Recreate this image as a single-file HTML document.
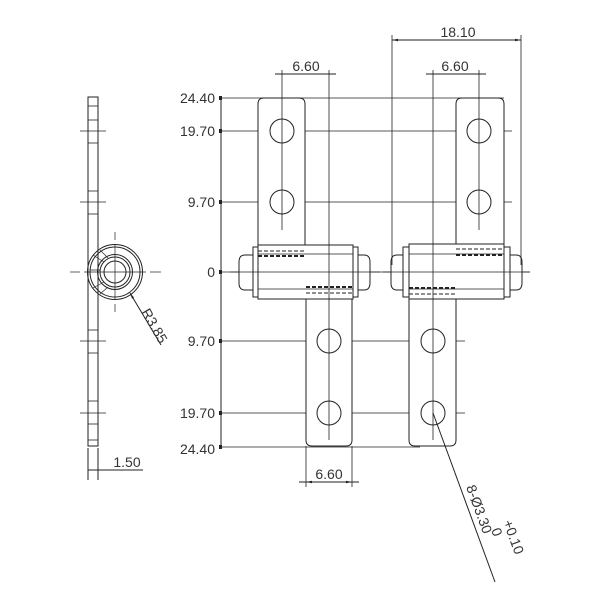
<!DOCTYPE html>
<html><head><meta charset="utf-8"><style>
html,body{margin:0;padding:0;background:#fff;}
svg{display:block;}
text{font-family:"Liberation Sans",sans-serif;font-size:14px;fill:#333;}
</style></head><body>
<svg width="600" height="600" viewBox="0 0 600 600" xmlns="http://www.w3.org/2000/svg">
<defs>
<marker id="a" viewBox="0 0 10 10" refX="10" refY="5" markerWidth="6" markerHeight="6" orient="auto-start-reverse"><path d="M0,3 L10,5 L0,7 z" fill="#222"/></marker>
</defs>
<g stroke="#222" stroke-width="1" fill="none">
<rect x="88" y="97" width="10" height="349"/>
<g stroke-width="0.8">
<line x1="88" y1="106" x2="98" y2="106"/><line x1="88" y1="440" x2="98" y2="440"/>
<line x1="88" y1="120" x2="98" y2="120"/><line x1="88" y1="143" x2="98" y2="143"/>
<line x1="88" y1="191" x2="98" y2="191"/><line x1="88" y1="214" x2="98" y2="214"/>
<line x1="88" y1="330" x2="98" y2="330"/><line x1="88" y1="353" x2="98" y2="353"/>
<line x1="88" y1="401" x2="98" y2="401"/><line x1="88" y1="424" x2="98" y2="424"/>
<line x1="80" y1="131" x2="106" y2="131"/><line x1="80" y1="202" x2="106" y2="202"/>
<line x1="80" y1="341" x2="106" y2="341"/><line x1="80" y1="413" x2="106" y2="413"/>
</g>
<circle cx="115" cy="272" r="27.5"/>
<circle cx="115" cy="272" r="25"/>
<circle cx="115" cy="272" r="17.5"/>
<circle cx="115" cy="272" r="15"/>
<circle cx="115" cy="272" r="11"/>
<g stroke-width="0.7">
<line x1="70" y1="272" x2="80" y2="272"/><line x1="84" y1="272" x2="146" y2="272"/><line x1="150" y1="272" x2="161" y2="272"/>
<line x1="115" y1="232" x2="115" y2="240"/><line x1="115" y1="304" x2="115" y2="312"/>
<line x1="115" y1="244" x2="115" y2="300"/>
<path d="M93 255 L104 262 M90 270 L100 270 M93 288 L104 282 M100 250 L108 258 M100 294 L108 287"/>
</g>
<line x1="130" y1="293" x2="161" y2="345" marker-start="url(#a)"/>
<line x1="88" y1="448" x2="88" y2="480"/><line x1="98" y1="448" x2="98" y2="480"/>
<line x1="88" y1="470" x2="143" y2="470"/>

<line x1="221" y1="96" x2="221" y2="449"/>
<g stroke-width="0.8">
<line x1="221" y1="98" x2="504" y2="98"/>
<line x1="221" y1="131" x2="512" y2="131"/>
<line x1="221" y1="202" x2="512" y2="202"/>
<line x1="221" y1="272" x2="530" y2="272"/>
<line x1="221" y1="341" x2="465" y2="341"/>
<line x1="221" y1="413" x2="465" y2="413"/>
<line x1="221" y1="447" x2="420" y2="447"/>
</g>
<g fill="#222" stroke="none">
<rect x="219" y="96" width="3" height="4"/><rect x="219" y="129" width="3" height="4"/><rect x="219" y="200" width="3" height="4"/>
<rect x="219" y="270" width="3" height="4"/><rect x="219" y="339" width="3" height="4"/><rect x="219" y="411" width="3" height="4"/><rect x="219" y="445" width="3" height="4"/>
</g>

<path d="M258 245 V104 Q258 98 264 98 H299 Q305 98 305 104 V245" fill="#fff"/>
<path d="M456 245 V104 Q456 98 462 98 H498 Q504 98 504 104 V245" fill="#fff"/>
<circle cx="282" cy="131" r="12"/><circle cx="282" cy="202" r="12"/>
<circle cx="479" cy="131" r="12"/><circle cx="479" cy="202" r="12"/>
<path d="M306 299 V440 Q306 446 312 446 H346 Q352 446 352 440 V299" fill="#fff"/>
<path d="M409 299 V440 Q409 446 415 446 H450 Q456 446 456 440 V299" fill="#fff"/>
<circle cx="329" cy="341" r="12"/><circle cx="329" cy="413" r="12"/>
<circle cx="433" cy="341" r="12"/><circle cx="433" cy="413" r="12"/>

<path d="M253 255 H245 Q239 255 239 262 V283 Q239 290 245 290 H253 Z" fill="#fff"/>
<path d="M358 255 H364 Q370 255 370 262 V283 Q370 290 364 290 H358 Z" fill="#fff"/>
<rect x="253" y="247" width="5" height="50" fill="#fff"/>
<rect x="353" y="247" width="5" height="50" fill="#fff"/>
<rect x="258" y="245" width="95" height="54" fill="#fff"/>
<path d="M403 255 H397 Q391 255 391 262 V283 Q391 290 397 290 H403 Z" fill="#fff"/>
<path d="M510 255 H516 Q522 255 522 262 V283 Q522 290 516 290 H510 Z" fill="#fff"/>
<rect x="403" y="247" width="6" height="50" fill="#fff"/>
<rect x="504" y="247" width="6" height="50" fill="#fff"/>
<rect x="409" y="244" width="95" height="55" fill="#fff"/>
<g stroke-width="0.8">
<line x1="258" y1="254" x2="353" y2="254"/><line x1="258" y1="289" x2="353" y2="289"/>
<line x1="409" y1="254" x2="504" y2="254"/><line x1="409" y1="289" x2="504" y2="289"/>
<line x1="230" y1="272" x2="380" y2="272"/><line x1="383" y1="272" x2="530" y2="272"/>
</g>
<g stroke-dasharray="4,2">
<line x1="258" y1="251" x2="305" y2="251"/><line x1="258" y1="256" x2="305" y2="256" stroke-width="2"/>
<line x1="306" y1="287" x2="353" y2="287" stroke-width="2"/><line x1="306" y1="293" x2="353" y2="293"/>
<line x1="456" y1="249" x2="504" y2="249"/><line x1="456" y1="255" x2="504" y2="255" stroke-width="2"/>
<line x1="409" y1="288" x2="456" y2="288" stroke-width="2"/><line x1="409" y1="294" x2="456" y2="294"/>
</g>

<g stroke-width="0.8">
<line x1="282" y1="70" x2="282" y2="230"/>
<line x1="329" y1="70" x2="329" y2="440"/>
<line x1="433" y1="70" x2="433" y2="440"/>
<line x1="479" y1="70" x2="479" y2="230"/>
<line x1="392" y1="35" x2="392" y2="265"/>
<line x1="521" y1="35" x2="521" y2="265"/>
<line x1="306" y1="446" x2="306" y2="487"/>
<line x1="352" y1="446" x2="352" y2="487"/>
</g>
<line x1="275" y1="74" x2="336" y2="74"/>
<line x1="426" y1="74" x2="486" y2="74"/>
<line x1="392" y1="40" x2="521" y2="40" marker-start="url(#a)" marker-end="url(#a)"/>
<line x1="299" y1="482" x2="359" y2="482"/>
<line x1="306" y1="482" x2="352" y2="482" marker-start="url(#a)" marker-end="url(#a)"/>
<line x1="433" y1="413" x2="495" y2="582"/>
</g>

<text x="215" y="103" text-anchor="end">24.40</text>
<text x="215" y="136" text-anchor="end">19.70</text>
<text x="215" y="207" text-anchor="end">9.70</text>
<text x="215" y="277" text-anchor="end">0</text>
<text x="215" y="346" text-anchor="end">9.70</text>
<text x="215" y="418" text-anchor="end">19.70</text>
<text x="215" y="454" text-anchor="end">24.40</text>
<text x="306" y="71" text-anchor="middle">6.60</text>
<text x="455" y="71" text-anchor="middle">6.60</text>
<text x="458" y="37" text-anchor="middle">18.10</text>
<text x="329" y="479" text-anchor="middle">6.60</text>
<text x="127" y="467" text-anchor="middle">1.50</text>
<text x="0" y="0" transform="translate(141,312) rotate(60)">R3.85</text>
<text x="0" y="0" transform="translate(466,487) rotate(70)">8-Ø3.30</text>
<text x="0" y="0" transform="translate(491,530) rotate(70)">0</text>
<text x="0" y="0" transform="translate(503,522) rotate(70)">+0.10</text>
</svg>
</body></html>
